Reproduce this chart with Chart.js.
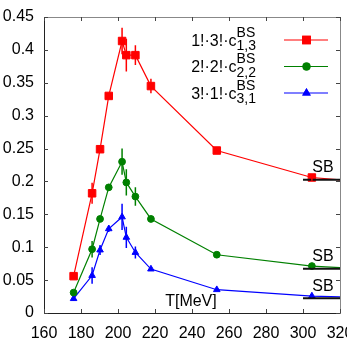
<!DOCTYPE html>
<html>
<head>
<meta charset="utf-8">
<script src="https://cdn.jsdelivr.net/npm/chart.js@4/dist/chart.umd.min.js"></script>
<style>
html,body{margin:0;padding:0;background:#fff;}
#wrap{width:347px;height:347px;}
</style>
</head>
<body>
<div id="wrap"><canvas id="c" width="347" height="347"></canvas></div>
<script>
// ---- data ----
const T = [176, 186, 190.3, 195, 202.2, 204.5, 209.4, 217.8, 253.4, 304.8];
const tEdge = 320;
const red   = [0.056, 0.182, 0.249, 0.330, 0.4135, 0.392, 0.392, 0.345, 0.247, 0.206];
const redErr   = [0.003, 0.016, 0.004, 0.004, 0.020, 0.025, 0.015, 0.011, 0.005, 0.005];
const green = [0.031, 0.097, 0.143, 0.191, 0.230, 0.1985, 0.177, 0.143, 0.0886, 0.0714];
const greenErr = [0.002, 0.0125, 0.004, 0.005, 0.020, 0.020, 0.014, 0.005, 0.003, 0.003];
const blue  = [0.0218, 0.057, 0.0957, 0.128, 0.146, 0.115, 0.092, 0.0668, 0.0354, 0.0258];
const blueErr  = [0.003, 0.0125, 0.0075, 0.005, 0.020, 0.016, 0.009, 0.003, 0.002, 0.002];
const edgeVals = [0.2025, 0.069, 0.0245];
const sbLevels = [0.2025, 0.0673, 0.0223];
const sbRange = [300, 320];
const xTicks = [160, 180, 200, 220, 240, 260, 280, 300, 320];
const yTicks = [0, 0.05, 0.1, 0.15, 0.2, 0.25, 0.3, 0.35, 0.4, 0.45];
const seriesNames = [
  {main: '1!·3!·c', sup: 'BS', sub: '1,3'},
  {main: '2!·2!·c', sup: 'BS', sub: '2,2'},
  {main: '3!·1!·c', sup: 'BS', sub: '3,1'}
];
const xLabel = 'T[MeV]';
const sbLabel = 'SB';

const FONT = '"Liberation Sans", Arial, Helvetica, sans-serif';
const colors = ['#ff0000', '#008000', '#0000ff'];
const styles = ['rect', 'circle', 'triangle'];
const radii = [5.3, 3.4, 3.8];
const values = [red, green, blue];
const errs = [redErr, greenErr, blueErr];

function mk(i) {
  const pts = T.map((t, k) => ({x: t, y: values[i][k]}));
  pts.push({x: tEdge, y: edgeVals[i]});
  const r = pts.map((p, k) => k < T.length ? radii[i] : 0);
  return {
    label: seriesNames[i].main,
    data: pts,
    showLine: true,
    borderColor: colors[i],
    backgroundColor: colors[i],
    borderWidth: 1.2,
    pointStyle: styles[i],
    pointRadius: r,
    pointBorderWidth: 1,
    pointBorderColor: colors[i],
    pointBackgroundColor: colors[i],
    errs: errs[i],
    order: 1
  };
}
const datasets = [mk(0), mk(1), mk(2)];
sbLevels.forEach(v => {
  datasets.push({
    label: 'SB',
    data: [{x: sbRange[0], y: v}, {x: sbRange[1], y: v}],
    showLine: true,
    borderColor: '#111',
    borderWidth: 2,
    pointRadius: 0,
    order: 0
  });
});

const decor = {
  id: 'decor',
  beforeDatasetsDraw(chart) {
    const {ctx, chartArea: a, scales: {x, y}} = chart;
    ctx.save();
    ctx.lineWidth = 1;
    ctx.strokeStyle = '#888';
    ctx.beginPath();
    ctx.moveTo(Math.round(a.left) + 0.5, Math.round(a.top) + 0.5);
    ctx.lineTo(Math.round(a.right) + 0.5, Math.round(a.top) + 0.5);
    ctx.lineTo(Math.round(a.right) + 0.5, Math.round(a.bottom) + 0.5);
    ctx.stroke();
    ctx.strokeStyle = '#222';
    ctx.beginPath();
    ctx.moveTo(Math.round(a.left) + 0.5, Math.round(a.top) + 0.5);
    ctx.lineTo(Math.round(a.left) + 0.5, Math.round(a.bottom) + 0.5);
    ctx.lineTo(Math.round(a.right) + 0.5, Math.round(a.bottom) + 0.5);
    ctx.stroke();
    const L = 4;
    ctx.strokeStyle = '#444';
    ctx.beginPath();
    xTicks.forEach(v => {
      const px = Math.round(x.getPixelForValue(v)) + 0.5;
      ctx.moveTo(px, a.bottom); ctx.lineTo(px, a.bottom - L);
      ctx.moveTo(px, a.top); ctx.lineTo(px, a.top + L);
    });
    yTicks.forEach(v => {
      const py = Math.round(y.getPixelForValue(v)) + 0.5;
      ctx.moveTo(a.left, py); ctx.lineTo(a.left + L, py);
      ctx.moveTo(a.right, py); ctx.lineTo(a.right - L, py);
    });
    ctx.stroke();
    ctx.restore();
  },
  afterDatasetsDraw(chart) {
    const {ctx, chartArea: a, scales: {x, y}} = chart;
    ctx.save();
    chart.data.datasets.forEach(ds => {
      if (!ds.errs) return;
      ctx.strokeStyle = ds.borderColor;
      ctx.lineWidth = 1.5;
      ctx.beginPath();
      ds.errs.forEach((e, k) => {
        const px = x.getPixelForValue(T[k]);
        ctx.moveTo(px, y.getPixelForValue(ds.data[k].y - e));
        ctx.lineTo(px, y.getPixelForValue(ds.data[k].y + e));
      });
      ctx.stroke();
    });
    ctx.fillStyle = '#000';
    ctx.font = '16px ' + FONT;
    ctx.textAlign = 'left';
    ctx.textBaseline = 'alphabetic';
    sbLevels.forEach(v => {
      ctx.fillText(sbLabel, x.getPixelForValue(305), y.getPixelForValue(v) - 7.7);
    });
    ctx.fillText(xLabel, x.getPixelForValue(225.5), a.bottom - 7.5);
    const textRight = 256, lineL = 284, lineR = 328, mX = 306.5;
    const rowY = [40, 66.5, 93];
    seriesNames.forEach((s, i) => {
      const ly = rowY[i];
      ctx.font = '16px ' + FONT;
      const mw = ctx.measureText(s.main).width;
      ctx.font = '14px ' + FONT;
      const sw = Math.max(ctx.measureText(s.sup).width, ctx.measureText(s.sub).width);
      const x0 = textRight - sw - mw;
      ctx.fillStyle = '#000';
      ctx.font = '16px ' + FONT;
      ctx.fillText(s.main, x0, ly + 5.7);
      ctx.font = '14px ' + FONT;
      ctx.fillText(s.sup, x0 + mw, ly - 3.3);
      ctx.fillText(s.sub, x0 + mw, ly + 10);
      ctx.strokeStyle = colors[i];
      ctx.lineWidth = 1.2;
      ctx.beginPath();
      ctx.moveTo(lineL, ly); ctx.lineTo(lineR, ly);
      ctx.stroke();
      Chart.helpers.drawPoint(ctx, {pointStyle: styles[i], radius: radii[i], borderWidth: 1, rotation: 0}, mX, ly);
      ctx.fillStyle = colors[i];
      ctx.fill();
      ctx.stroke();
    });
    ctx.restore();
  }
};

new Chart(document.getElementById('c'), {
  type: 'scatter',
  data: {datasets},
  options: {
    responsive: false,
    animation: false,
    devicePixelRatio: 1,
    layout: {padding: {top: 17, right: 7, left: 0, bottom: 0}, autoPadding: false},
    plugins: {legend: {display: false}, tooltip: {enabled: false}},
    scales: {
      x: {
        type: 'linear', min: 160, max: 320,
        grid: {display: false, drawTicks: false},
        border: {display: false},
        afterBuildTicks: s => { s.ticks = xTicks.map(v => ({value: v})); },
        afterFit: s => { s.height = 34; s.paddingLeft = 0; s.paddingRight = 0; },
        ticks: {padding: 11, color: '#000', font: {family: FONT, size: 16}, maxRotation: 0, autoSkip: false,
          callback: v => String(v)}
      },
      y: {
        type: 'linear', min: 0, max: 0.45,
        grid: {display: false, drawTicks: false},
        border: {display: false},
        afterBuildTicks: s => { s.ticks = yTicks.map(v => ({value: v})); },
        afterFit: s => { s.width = 44; s.paddingTop = 0; s.paddingBottom = 0; },
        ticks: {padding: 10, color: '#000', font: {family: FONT, size: 16}, autoSkip: false,
          callback: v => String(Math.round(v * 100) / 100)}
      }
    }
  },
  plugins: [decor]
});
</script>
</body>
</html>
